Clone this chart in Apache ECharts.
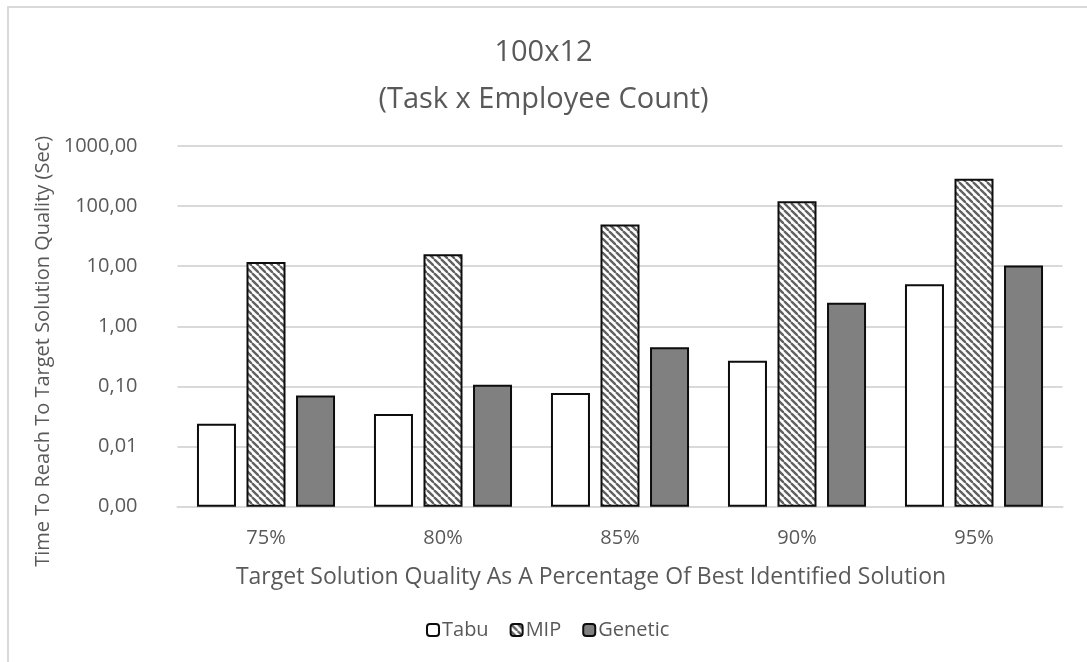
<!DOCTYPE html>
<html>
<head>
<meta charset="utf-8">
<script src="https://cdn.jsdelivr.net/npm/echarts@6/dist/echarts.min.js"></script>
<style>
  html, body { margin: 0; padding: 0; background: #fff; }
  #chart { width: 1087px; height: 662px; }
</style>
</head>
<body>
<div id="chart"></div>
<script>
// Target quality levels and time-to-target (seconds) per solver
const categories = ['75%', '80%', '85%', '90%', '95%'];
const tabu    = [0.0239, 0.035, 0.0777, 0.268, 5.01];
const mip     = [11.8, 15.8, 49.5, 121, 286];
const genetic = [0.0708, 0.107, 0.447, 2.48, 10.3];

const FONT = '"Open Sans", sans-serif';
const TXT = '#595959';

// Diagonal hatch used for the MIP bars
function hatchPattern() {
  const s = 7;
  const c = document.createElement('canvas');
  c.width = s; c.height = s;
  const g = c.getContext('2d');
  g.fillStyle = '#ffffff';
  g.fillRect(0, 0, s, s);
  g.strokeStyle = '#606060';
  g.lineWidth = 2.3;
  for (let k = -1; k <= 1; k++) {
    g.beginPath();
    g.moveTo(k * s, 0);
    g.lineTo(k * s + s, s);
    g.stroke();
  }
  return { image: c, repeat: 'repeat' };
}

const chart = echarts.init(document.getElementById('chart'), null, { renderer: 'canvas' });

const barCommon = {
  type: 'bar',
  barWidth: 39,
  barGap: '27%'
};

chart.setOption({
  backgroundColor: '#ffffff',
  animation: false,
  title: {
    text: '100x12\n(Task x Employee Count)',
    left: 'center',
    top: 24,
    textStyle: { fontFamily: FONT, fontSize: 29, fontWeight: 'normal', color: TXT, lineHeight: 47 }
  },
  graphic: [{
    type: 'rect',
    shape: { x: 8, y: 7, width: 1200, height: 800 },
    style: { fill: 'none', stroke: '#d9d9d9', lineWidth: 2 },
    silent: true
  }],
  legend: {
    bottom: 17,
    left: 421,
    itemWidth: 12,
    itemHeight: 12,
    itemGap: 21,
    textStyle: { fontFamily: FONT, fontSize: 20, color: TXT, padding: [0, 0, 0, -2] },
    data: ['Tabu', 'MIP', 'Genetic']
  },
  grid: { left: 177.5, right: 24.5, top: 146, bottom: 155.3, containLabel: false },
  xAxis: {
    type: 'category',
    data: categories,
    name: 'Target Solution Quality As A Percentage Of Best Identified Solution',
    nameLocation: 'middle',
    nameGap: 59,
    nameTextStyle: { fontFamily: FONT, fontSize: 23, color: TXT, padding: [0, 58, 0, 0] },
    axisLine: { lineStyle: { color: '#d9d9d9', width: 2 } },
    axisTick: { show: false },
    axisLabel: { fontFamily: FONT, fontSize: 20, color: TXT, margin: 22 }
  },
  yAxis: {
    type: 'log',
    logBase: 10,
    min: 0.001,
    max: 1000,
    startValue: 0.001,
    name: 'Time To Reach To Target Solution Quality (Sec)',
    nameLocation: 'middle',
    nameGap: 116,
    nameTextStyle: { fontFamily: FONT, fontSize: 20, color: TXT, padding: [0, 50, 0, 0] },
    axisLine: { show: false },
    axisTick: { show: false },
    splitLine: { lineStyle: { color: '#d9d9d9', width: 2 } },
    axisLabel: {
      fontFamily: FONT, fontSize: 20, color: TXT, margin: 40,
      formatter: v => v.toFixed(2).replace('.', ',')
    }
  },
  series: [
    Object.assign({}, barCommon, { name: 'Tabu', data: tabu,
      itemStyle: { color: '#ffffff', borderColor: '#0d0d0d', borderWidth: 2 } }),
    Object.assign({}, barCommon, { name: 'MIP', data: mip,
      itemStyle: { color: hatchPattern(), borderColor: '#0d0d0d', borderWidth: 2 } }),
    Object.assign({}, barCommon, { name: 'Genetic', data: genetic,
      itemStyle: { color: '#808080', borderColor: '#0d0d0d', borderWidth: 2 } })
  ]
});
</script>
</body>
</html>
